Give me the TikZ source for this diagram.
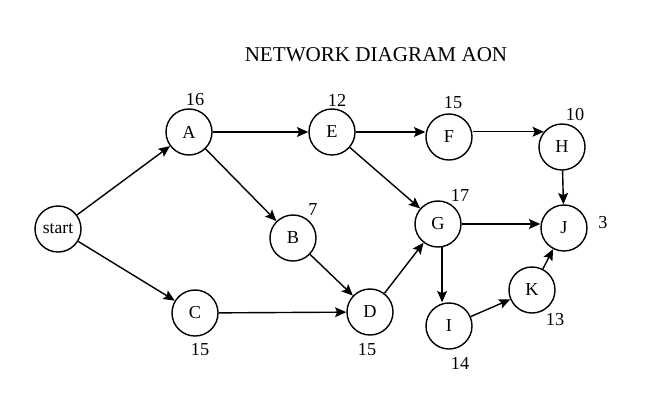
\documentclass[tikz,border=0pt]{standalone}
\usepackage{fontspec}
\setmainfont{Liberation Serif}
\usetikzlibrary{arrows.meta}

\begin{document}
\begin{tikzpicture}[x=0.025cm,y=-0.025cm,>={Stealth[length=8pt,width=7pt,inset=1.5pt]},
    every node/.style={font=\fontsize{13}{15}\selectfont},
    act/.style={draw,circle,line width=1pt,minimum size=1.15cm,inner sep=0pt},
    link/.style={->,line width=1pt}]
  \useasboundingbox (0,0) rectangle (664,409);
  \node[font=\fontsize{15}{17}\selectfont] (title) at (376,55) {NETWORK DIAGRAM AON};
  % activities
  \node[act] (start) at (58,229) {\fontsize{12.5}{14}\selectfont start};
  \node[act] (A) at (189,132) {A};
  \node[act] (B) at (293,238) {B};
  \node[act] (C) at (195,313) {C};
  \node[act] (D) at (370,312) {D};
  \node[act] (E) at (332,132) {E};
  \node[act] (F) at (449,137) {F};
  \node[act] (G) at (438,224) {G};
  \node[act] (H) at (562,147) {H};
  \node[act] (I) at (449,326) {I};
  \node[act] (J) at (564,228) {J};
  \node[act] (K) at (532,290) {K};
  % durations
  \foreach \n/\x/\y/\d in {A/195/100/16, B/313/210/7, C/200/350/15, D/367/350/15,
      E/337/100/12, F/453/103/15, G/460/195/17, H/575/115/10, I/460/363/14,
      J/603/223/3, K/555/320/13}
    \node (d\n) at (\x,\y) {\d};
  % dependencies
  \draw[link] (start) -- (A);
  \draw[link] (start) -- (C);
  \draw[link] (A) -- (E);
  \draw[link] (A) -- (B);
  \draw[link] (E.east) -- (E.east -| F.west);
  \draw[link] (E) -- (G);
  \draw[link] (H.140 -| F.east) -- (H.140);
  \draw[link] (H) -- (J);
  \draw[link] (B) -- (D);
  \draw[link] (C) -- (D);
  \draw[link] (D) -- (G);
  \draw[link] (G.east) -- (G.east -| J.west);
  \draw[link] (G.-80) -- (G.-80 |- I.north);
  \draw[link] (I) -- (K);
  \draw[link] (K) -- (J);
\end{tikzpicture}
\end{document}
